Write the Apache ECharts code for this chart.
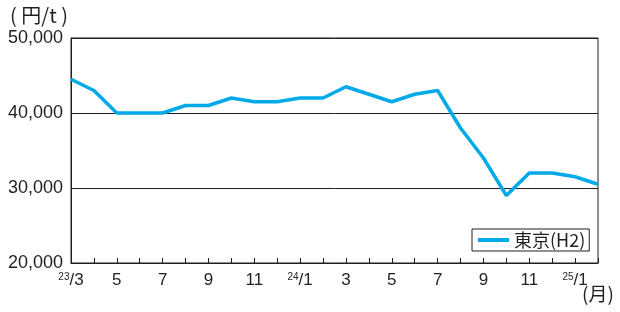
<!DOCTYPE html>
<html>
<head>
<meta charset="utf-8">
<script src="https://cdn.jsdelivr.net/npm/echarts@6/dist/echarts.min.js"></script>
<style>
  html, body { margin: 0; padding: 0; background: #fff; }
  #chart { width: 620px; height: 312px; }
</style>
</head>
<body>
<div id="chart"></div>
<script>
// 月（23/3 〜 25/2）
const months = [
  '23/3', '23/4', '23/5', '23/6', '23/7', '23/8', '23/9', '23/10', '23/11', '23/12',
  '24/1', '24/2', '24/3', '24/4', '24/5', '24/6', '24/7', '24/8', '24/9', '24/10', '24/11', '24/12',
  '25/1', '25/2'
];
// 東京(H2) 円/t
const tokyoH2 = [
  44500, 43000, 40000, 40000, 40000, 41000, 41000, 42000, 41500, 41500,
  42000, 42000, 43500, 42500, 41500, 42500, 43000, 38000, 34000, 29000, 32000, 32000,
  31500, 30500
];
const yTicks = [20000, 30000, 40000, 50000];

const textColor = '#231f20';
const lineColor = '#00a9e8';
const font = 'Liberation Sans, Arial, sans-serif';
const jpFont = 'Noto Sans CJK JP, sans-serif';

const chart = echarts.init(document.getElementById('chart'));

chart.setOption({
  animation: false,
  textStyle: { fontFamily: font, color: textColor },
  grid: {
    left: 71, right: 22, top: 38, bottom: 49,
    show: true,
    borderColor: textColor,
    borderWidth: 1
  },
  legend: {
    data: ['東京(H2)'],
    left: 472, top: 229,
    padding: [2, 4, 2, 6],
    borderColor: textColor,
    borderWidth: 1,
    icon: 'rect',
    itemWidth: 31, itemHeight: 4,
    itemGap: 6,
    textStyle: {
      fontFamily: jpFont,
      fontSize: 18, color: textColor
    }
  },
  xAxis: {
    type: 'category',
    data: months,
    boundaryGap: false,
    axisLine: { lineStyle: { color: textColor, width: 1 } },
    axisTick: { inside: true, length: 5, interval: 0, lineStyle: { color: textColor } },
    axisLabel: {
      interval: 1,
      margin: 9,
      fontSize: 17,
      color: textColor,
      formatter: function (v) {
        const p = v.split('/');
        if (p[1] === '1' || v === months[0]) return '{s|' + p[0] + '}/' + p[1];
        return p[1];
      },
      rich: {
        s: { fontSize: 10, verticalAlign: 'top', padding: [0, 0, 6, 0] }
      }
    }
  },
  yAxis: {
    type: 'value',
    min: yTicks[0],
    max: yTicks[yTicks.length - 1],
    interval: 10000,
    axisLine: { show: true, lineStyle: { color: textColor } },
    axisTick: { show: false },
    splitLine: { lineStyle: { color: textColor, width: 1 } },
    axisLabel: {
      margin: 8,
      fontSize: 18,
      color: textColor,
      formatter: function (v) { return v.toLocaleString('en-US'); }
    }
  },
  graphic: [
    {
      type: 'text', left: 10, top: 5,
      style: { text: '( 円/t )', fontSize: 20, fill: textColor, fontFamily: jpFont }
    },
    {
      type: 'text', left: 582, top: 284,
      style: { text: '(月)', fontSize: 19, fill: textColor, fontFamily: jpFont }
    }
  ],
  series: [
    {
      name: '東京(H2)',
      type: 'line',
      data: tokyoH2,
      showSymbol: false,
      lineStyle: { color: lineColor, width: 3.5 },
      itemStyle: { color: lineColor }
    }
  ]
});
</script>
</body>
</html>
